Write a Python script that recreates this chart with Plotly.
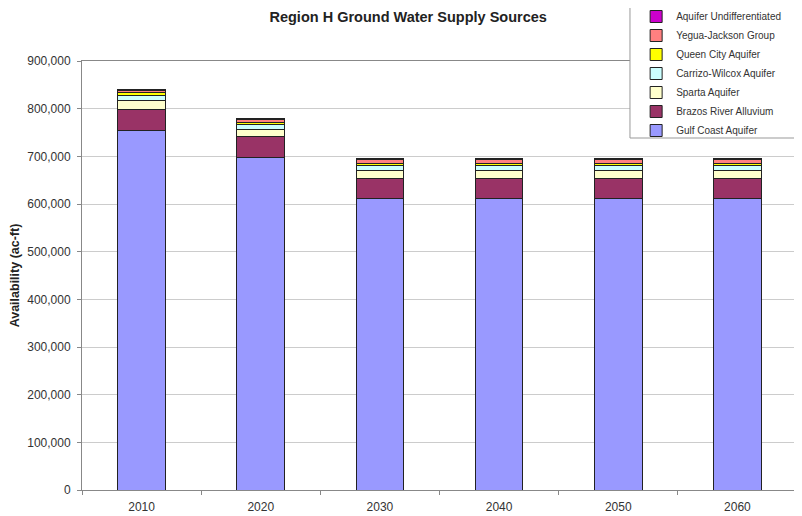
"""Region H ground water supply sources, stacked by aquifer."""
import plotly.graph_objects as go

YEARS = ["2010", "2020", "2030", "2040", "2050", "2060"]

# availability (ac-ft)
GULF_COAST = [755000, 698000, 611000, 611000, 611000, 611000]
BRAZOS_RIVER = [43000, 43000, 43000, 43000, 43000, 43000]
SPARTA = [20000, 16000, 16000, 16000, 16000, 16000]
CARRIZO_WILCOX = [10000, 9000, 11000, 11000, 11000, 11000]
QUEEN_CITY = [5000, 5000, 5000, 5000, 5000, 5000]
YEGUA_JACKSON = [6000, 7000, 7000, 7000, 7000, 7000]
UNDIFFERENTIATED = [2000, 2000, 2000, 2000, 2000, 2000]

SERIES = [
    ("Gulf Coast Aquifer", GULF_COAST, "#9999FF"),
    ("Brazos River Alluvium", BRAZOS_RIVER, "#993366"),
    ("Sparta Aquifer", SPARTA, "#FFFFCC"),
    ("Carrizo-Wilcox Aquifer", CARRIZO_WILCOX, "#CCFFFF"),
    ("Queen City Aquifer", QUEEN_CITY, "#FFFF00"),
    ("Yegua-Jackson Group", YEGUA_JACKSON, "#FF8080"),
    ("Aquifer Undifferentiated", UNDIFFERENTIATED, "#CC00CC"),
]

FONT = "Liberation Sans, Arial, sans-serif"

fig = go.Figure()
for name, vals, color in SERIES:
    fig.add_trace(go.Bar(
        x=YEARS, y=vals, name=name,
        marker=dict(color=color, line=dict(color="#222222", width=1)),
        width=0.4,
    ))

# legend frame (Excel-style box in the top-right corner)
fig.add_shape(
    type="rect", xref="paper", yref="paper",
    x0=0.7664, x1=1.0056, y0=0.8205, y1=1.125,
    line=dict(color="#999999", width=1), fillcolor="white", layer="above",
)

# page body adds an 8px margin, so the figure is sized 8px smaller
fig.update_layout(
    width=794, height=508,
    barmode="stack",
    paper_bgcolor="white", plot_bgcolor="white",
    font=dict(family=FONT, size=12, color="#333333"),
    title=dict(
        text="<b>Region H Ground Water Supply Sources</b>",
        x=0.504, xanchor="center", y=0.982, yanchor="middle",
        font=dict(size=14.5, color="#222222"),
    ),
    margin=dict(l=74, r=5, t=53, b=26, autoexpand=False),
    showlegend=True,
    legend=dict(
        traceorder="reversed",
        x=0.775, xanchor="left", y=1.1375, yanchor="top",
        bgcolor="rgba(0,0,0,0)", borderwidth=0,
        font=dict(size=10, color="#333333"),
        itemwidth=30,
    ),
    xaxis=dict(
        automargin=False,
        showline=True, linecolor="#888888", mirror=True,
        ticks="outside", tickson="boundaries", ticklen=4, tickcolor="#888888",
        ticklabelstandoff=6,
        tickfont=dict(size=12),
    ),
    yaxis=dict(
        automargin=False,
        title=dict(text="<b>Availability (ac-ft)</b>", font=dict(size=12.5, color="#222222"), standoff=9),
        range=[0, 900000], dtick=100000, tickformat=",d",
        showline=True, linecolor="#888888", mirror=True,
        gridcolor="#CCCCCC", zeroline=False,
        ticks="outside", ticklen=4, tickcolor="#888888",
        ticklabelstandoff=4,
        tickfont=dict(size=12),
    ),
)

fig.write_html("out.html")
